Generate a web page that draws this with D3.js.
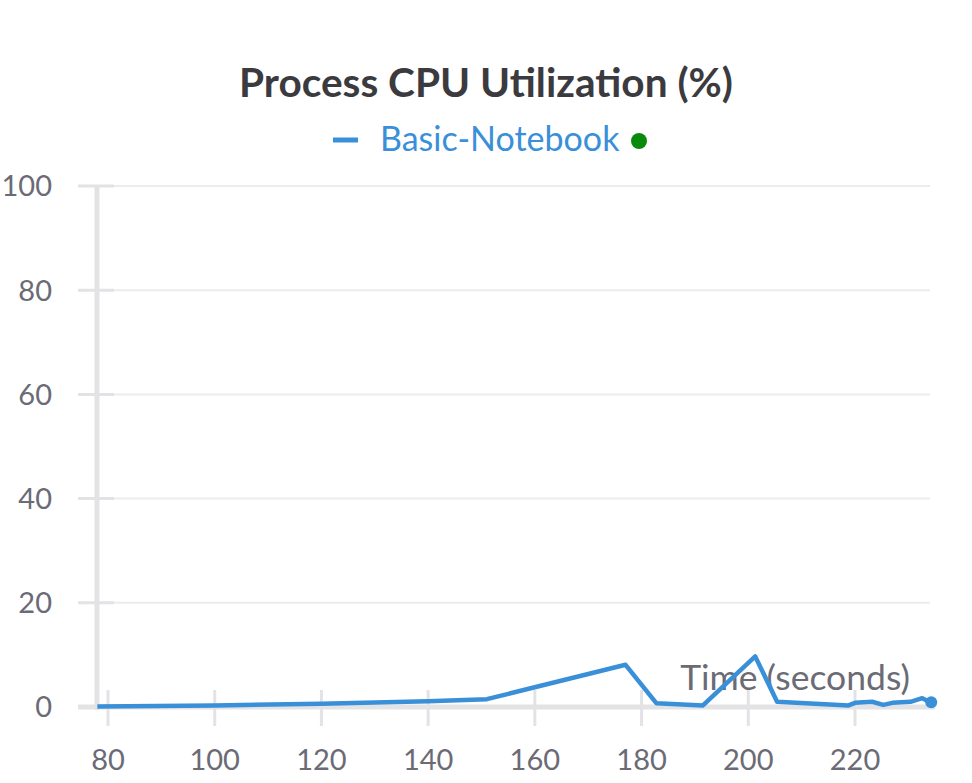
<!DOCTYPE html>
<html>
<head>
<meta charset="utf-8">
<script src="https://cdn.jsdelivr.net/npm/d3@7"></script>
<style>
  html, body { margin: 0; padding: 0; background: #fff; }
  svg { display: block; font-family: "Lato", "Open Sans", sans-serif; }
</style>
</head>
<body>
<svg id="chart" width="972" height="783"></svg>
<script>
const title = "Process CPU Utilization (%)";
const seriesName = "Basic-Notebook";
const xLabel = "Time (seconds)";
const xTicks = [80, 100, 120, 140, 160, 180, 200, 220];
const yTicks = [0, 20, 40, 60, 80, 100];
const timeSec = [78, 100, 120, 140, 151, 177, 182.8, 191.5, 201.3, 205.4, 218.8, 220, 223.2, 225.3, 227, 230.4, 232.6, 234.1];
const cpuPct  = [0.1, 0.3, 0.6, 1.1, 1.5, 8.1, 0.7, 0.3, 9.7, 1.0, 0.3, 0.8, 1.0, 0.4, 0.8, 1.0, 1.7, 0.9];

const svg = d3.select("#chart");
const x = d3.scaleLinear().domain([80, 220]).range([108, 855]);
const y = d3.scaleLinear().domain([0, 100]).range([707, 186]);

const gridColor = "#ececec";
const axisColor = "#e3e3e6";
const textColor = "#6b6b76";
const lineColor = "#3a8fd9";

// horizontal gridlines
svg.append("g").selectAll("line").data(yTicks).join("line")
  .attr("x1", 96).attr("x2", 930)
  .attr("y1", d => y(d)).attr("y2", d => y(d))
  .attr("stroke", gridColor).attr("stroke-width", 2);

// y tick stubs
svg.append("g").selectAll("line").data(yTicks).join("line")
  .attr("x1", 78).attr("x2", 114)
  .attr("y1", d => y(d)).attr("y2", d => y(d))
  .attr("stroke", axisColor).attr("stroke-width", 3);

// y axis line
svg.append("line")
  .attr("x1", 97).attr("x2", 97)
  .attr("y1", y(100)).attr("y2", y(0) + 3)
  .attr("stroke", axisColor).attr("stroke-width", 5);

// x axis line
svg.append("line")
  .attr("x1", 78).attr("x2", 935)
  .attr("y1", y(0)).attr("y2", y(0))
  .attr("stroke", axisColor).attr("stroke-width", 5);

// x tick marks
svg.append("g").selectAll("line").data(xTicks).join("line")
  .attr("x1", d => x(d)).attr("x2", d => x(d))
  .attr("y1", 690).attr("y2", 726)
  .attr("stroke", axisColor).attr("stroke-width", 3);

// y tick labels
svg.append("g").selectAll("text").data(yTicks).join("text")
  .attr("x", 52).attr("y", d => y(d))
  .attr("dy", "0.36em")
  .attr("text-anchor", "end")
  .attr("fill", textColor)
  .attr("font-size", 29)
  .text(d => d);

// x tick labels
svg.append("g").selectAll("text").data(xTicks).join("text")
  .attr("x", d => x(d)).attr("y", 770)
  .attr("text-anchor", "middle")
  .attr("fill", textColor)
  .attr("font-size", 29)
  .text(d => d);

// x axis label
svg.append("text")
  .attr("x", 910).attr("y", 690)
  .attr("text-anchor", "end")
  .attr("fill", textColor)
  .attr("font-size", 35.5)
  .text(xLabel);

// line
const pts = timeSec.map((t, i) => [t, cpuPct[i]]);
const line = d3.line().x(d => x(d[0])).y(d => y(d[1]));
svg.append("path")
  .datum(pts)
  .attr("d", line)
  .attr("fill", "none")
  .attr("stroke", lineColor)
  .attr("stroke-width", 4.5)
  .attr("stroke-linejoin", "round");

const last = pts[pts.length - 1];
svg.append("circle")
  .attr("cx", x(last[0]) + 1).attr("cy", y(last[1]))
  .attr("r", 6).attr("fill", lineColor);

// title
svg.append("text")
  .attr("x", 486).attr("y", 97)
  .attr("text-anchor", "middle")
  .attr("fill", "#3b3b3f")
  .attr("font-weight", "bold")
  .attr("font-size", 40.6)
  .text(title);

// legend
svg.append("line")
  .attr("x1", 333).attr("x2", 358).attr("y1", 140).attr("y2", 140)
  .attr("stroke", lineColor).attr("stroke-width", 5);
svg.append("text")
  .attr("x", 380).attr("y", 151)
  .attr("fill", lineColor)
  .attr("font-size", 34)
  .text(seriesName);
svg.append("circle")
  .attr("cx", 639).attr("cy", 141).attr("r", 8).attr("fill", "#0a8a0a");
</script>
</body>
</html>
